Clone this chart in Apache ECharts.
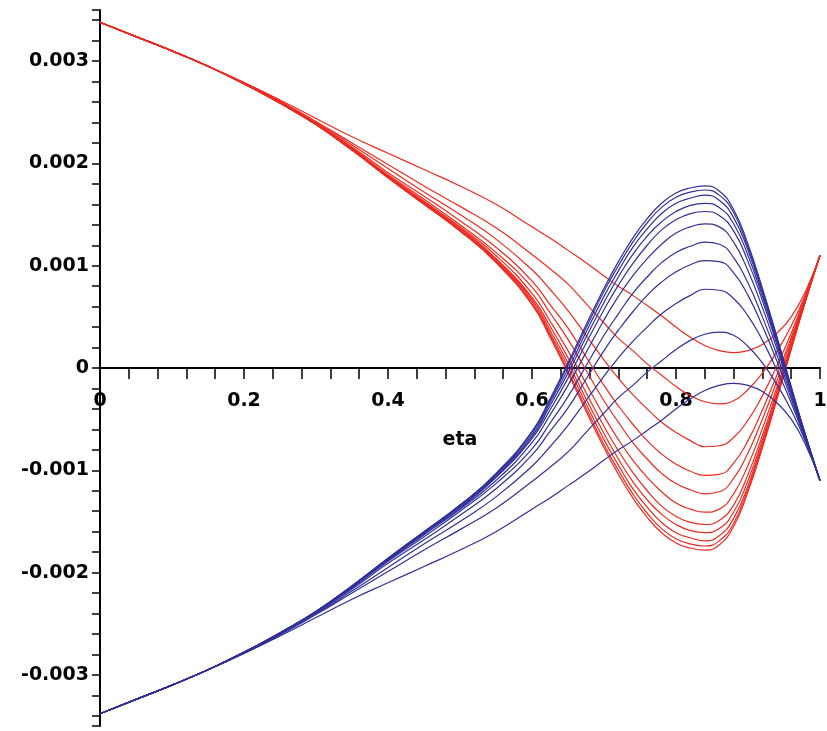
<!DOCTYPE html>
<html>
<head>
<meta charset="utf-8">
<script src="https://cdn.jsdelivr.net/npm/echarts@6/dist/echarts.min.js"></script>
<style>
  html, body { margin: 0; padding: 0; background: #fff; }
  #main { width: 827px; height: 731px; }
</style>
</head>
<body>
<div id="main"></div>
<script>
// eta sample points
var eta = [0, 0.05, 0.1, 0.15, 0.2, 0.25, 0.3, 0.35, 0.4, 0.45, 0.5, 0.55, 0.6, 0.625, 0.65, 0.675, 0.7, 0.72, 0.74, 0.76, 0.78, 0.8, 0.82, 0.84, 0.86, 0.88, 0.9, 0.92, 0.94, 0.96, 0.98, 1]

// red family
var red0 = [0.00338, 0.00324, 0.0031, 0.00295, 0.00279, 0.00262, 0.00244, 0.00226, 0.0021, 0.00194, 0.00178, 0.0016, 0.00138, 0.00127, 0.00115, 0.00103, 0.0009, 0.0008, 0.00071, 0.00061, 0.00051, 0.0004, 0.0003, 0.00022, 0.00017, 0.00015, 0.00017, 0.00023, 0.00034, 0.0005, 0.00075, 0.0011]
var red1 = [0.00338, 0.00324, 0.0031, 0.00295, 0.00279, 0.00261, 0.00241, 0.0022, 0.00199, 0.00178, 0.00158, 0.00137, 0.00111, 0.00097, 0.00082, 0.00063, 0.00044, 0.00029, 0.00017, 0.00004, -0.00007, -0.00018, -0.00027, -0.00033, -0.00035, -0.00032, -0.00021, -0.00005, 0.00016, 0.00041, 0.00072, 0.0011]
var red2 = [0.00338, 0.00324, 0.0031, 0.00295, 0.00278, 0.0026, 0.0024, 0.00218, 0.00195, 0.00172, 0.0015, 0.00126, 0.00096, 0.00077, 0.00056, 0.00032, 0.00008, -0.0001, -0.00026, -0.0004, -0.00053, -0.00063, -0.00071, -0.00077, -0.00076, -0.00068, -0.00051, -0.00027, 0.00002, 0.00034, 0.00071, 0.0011]
var red3 = [0.00338, 0.00324, 0.0031, 0.00295, 0.00278, 0.0026, 0.00239, 0.00216, 0.00191, 0.00168, 0.00144, 0.00118, 0.00085, 0.00062, 0.00039, 0.00011, -0.00017, -0.00037, -0.00055, -0.00071, -0.00084, -0.00094, -0.00101, -0.00105, -0.00104, -0.00093, -0.00071, -0.00041, -0.00007, 0.0003, 0.00069, 0.0011]
var red4 = [0.00338, 0.00324, 0.0031, 0.00295, 0.00278, 0.00259, 0.00239, 0.00215, 0.00189, 0.00165, 0.0014, 0.00113, 0.00079, 0.00054, 0.00028, -0.00002, -0.00032, -0.00053, -0.00073, -0.00089, -0.00103, -0.00113, -0.00119, -0.00123, -0.00121, -0.00108, -0.00083, -0.0005, -0.00013, 0.00027, 0.00068, 0.0011]
var red5 = [0.00338, 0.00324, 0.0031, 0.00295, 0.00278, 0.00259, 0.00238, 0.00214, 0.00188, 0.00163, 0.00138, 0.0011, 0.00073, 0.00046, 0.00017, -0.00015, -0.00047, -0.0007, -0.0009, -0.00107, -0.00121, -0.00132, -0.00138, -0.00141, -0.00138, -0.00123, -0.00095, -0.00059, -0.00019, 0.00024, 0.00068, 0.0011]
var red6 = [0.00338, 0.00324, 0.0031, 0.00295, 0.00278, 0.00259, 0.00238, 0.00214, 0.00187, 0.00162, 0.00137, 0.00107, 0.00069, 0.00041, 0.0001, -0.00024, -0.00057, -0.00081, -0.00102, -0.0012, -0.00135, -0.00145, -0.00151, -0.00153, -0.00149, -0.00134, -0.00104, -0.00066, -0.00023, 0.00022, 0.00067, 0.0011]
var red7 = [0.00338, 0.00324, 0.0031, 0.00295, 0.00278, 0.00259, 0.00238, 0.00213, 0.00187, 0.00161, 0.00136, 0.00106, 0.00067, 0.00037, 0.00005, -0.0003, -0.00064, -0.00089, -0.00111, -0.00129, -0.00143, -0.00153, -0.00159, -0.00161, -0.00157, -0.00141, -0.0011, -0.0007, -0.00026, 0.00021, 0.00067, 0.0011]
var red8 = [0.00338, 0.00324, 0.0031, 0.00295, 0.00278, 0.00259, 0.00238, 0.00213, 0.00187, 0.00161, 0.00135, 0.00105, 0.00065, 0.00034, 0.00001, -0.00035, -0.0007, -0.00095, -0.00118, -0.00136, -0.00151, -0.00161, -0.00166, -0.00169, -0.00164, -0.00147, -0.00115, -0.00073, -0.00028, 0.0002, 0.00066, 0.0011]
var red9 = [0.00338, 0.00324, 0.0031, 0.00295, 0.00278, 0.00259, 0.00238, 0.00213, 0.00186, 0.0016, 0.00134, 0.00104, 0.00063, 0.00032, -0.00003, -0.00039, -0.00075, -0.001, -0.00123, -0.00142, -0.00157, -0.00167, -0.00172, -0.00174, -0.00169, -0.00152, -0.00118, -0.00076, -0.0003, 0.00019, 0.00066, 0.0011]
var red10 = [0.00338, 0.00324, 0.0031, 0.00295, 0.00278, 0.00259, 0.00238, 0.00213, 0.00186, 0.0016, 0.00134, 0.00103, 0.00062, 0.0003, -0.00005, -0.00042, -0.00078, -0.00104, -0.00127, -0.00146, -0.00161, -0.00171, -0.00176, -0.00178, -0.00173, -0.00155, -0.00121, -0.00078, -0.00031, 0.00018, 0.00066, 0.0011]

// blue family
var blue0 = [-0.00338, -0.00324, -0.0031, -0.00295, -0.00279, -0.00262, -0.00244, -0.00226, -0.0021, -0.00194, -0.00178, -0.0016, -0.00138, -0.00127, -0.00115, -0.00103, -0.0009, -0.0008, -0.00071, -0.00061, -0.00051, -0.0004, -0.0003, -0.00022, -0.00017, -0.00015, -0.00017, -0.00023, -0.00034, -0.0005, -0.00075, -0.0011]
var blue1 = [-0.00338, -0.00324, -0.0031, -0.00295, -0.00279, -0.00261, -0.00241, -0.0022, -0.00199, -0.00178, -0.00158, -0.00137, -0.00111, -0.00097, -0.00082, -0.00063, -0.00044, -0.00029, -0.00017, -0.00004, 0.00007, 0.00018, 0.00027, 0.00033, 0.00035, 0.00032, 0.00021, 0.00005, -0.00016, -0.00041, -0.00072, -0.0011]
var blue2 = [-0.00338, -0.00324, -0.0031, -0.00295, -0.00278, -0.0026, -0.0024, -0.00218, -0.00195, -0.00172, -0.0015, -0.00126, -0.00096, -0.00077, -0.00056, -0.00032, -0.00008, 0.0001, 0.00026, 0.0004, 0.00053, 0.00063, 0.00071, 0.00077, 0.00076, 0.00068, 0.00051, 0.00027, -0.00002, -0.00034, -0.00071, -0.0011]
var blue3 = [-0.00338, -0.00324, -0.0031, -0.00295, -0.00278, -0.0026, -0.00239, -0.00216, -0.00191, -0.00168, -0.00144, -0.00118, -0.00085, -0.00062, -0.00039, -0.00011, 0.00017, 0.00037, 0.00055, 0.00071, 0.00084, 0.00094, 0.00101, 0.00105, 0.00104, 0.00093, 0.00071, 0.00041, 0.00007, -0.0003, -0.00069, -0.0011]
var blue4 = [-0.00338, -0.00324, -0.0031, -0.00295, -0.00278, -0.00259, -0.00239, -0.00215, -0.00189, -0.00165, -0.0014, -0.00113, -0.00079, -0.00054, -0.00028, 0.00002, 0.00032, 0.00053, 0.00073, 0.00089, 0.00103, 0.00113, 0.00119, 0.00123, 0.00121, 0.00108, 0.00083, 0.0005, 0.00013, -0.00027, -0.00068, -0.0011]
var blue5 = [-0.00338, -0.00324, -0.0031, -0.00295, -0.00278, -0.00259, -0.00238, -0.00214, -0.00188, -0.00163, -0.00138, -0.0011, -0.00073, -0.00046, -0.00017, 0.00015, 0.00047, 0.0007, 0.0009, 0.00107, 0.00121, 0.00132, 0.00138, 0.00141, 0.00138, 0.00123, 0.00095, 0.00059, 0.00019, -0.00024, -0.00068, -0.0011]
var blue6 = [-0.00338, -0.00324, -0.0031, -0.00295, -0.00278, -0.00259, -0.00238, -0.00214, -0.00187, -0.00162, -0.00137, -0.00107, -0.00069, -0.00041, -0.0001, 0.00024, 0.00057, 0.00081, 0.00102, 0.0012, 0.00135, 0.00145, 0.00151, 0.00153, 0.00149, 0.00134, 0.00104, 0.00066, 0.00023, -0.00022, -0.00067, -0.0011]
var blue7 = [-0.00338, -0.00324, -0.0031, -0.00295, -0.00278, -0.00259, -0.00238, -0.00213, -0.00187, -0.00161, -0.00136, -0.00106, -0.00067, -0.00037, -0.00005, 0.0003, 0.00064, 0.00089, 0.00111, 0.00129, 0.00143, 0.00153, 0.00159, 0.00161, 0.00157, 0.00141, 0.0011, 0.0007, 0.00026, -0.00021, -0.00067, -0.0011]
var blue8 = [-0.00338, -0.00324, -0.0031, -0.00295, -0.00278, -0.00259, -0.00238, -0.00213, -0.00187, -0.00161, -0.00135, -0.00105, -0.00065, -0.00034, -0.00001, 0.00035, 0.0007, 0.00095, 0.00118, 0.00136, 0.00151, 0.00161, 0.00166, 0.00169, 0.00164, 0.00147, 0.00115, 0.00073, 0.00028, -0.0002, -0.00066, -0.0011]
var blue9 = [-0.00338, -0.00324, -0.0031, -0.00295, -0.00278, -0.00259, -0.00238, -0.00213, -0.00186, -0.0016, -0.00134, -0.00104, -0.00063, -0.00032, 0.00003, 0.00039, 0.00075, 0.001, 0.00123, 0.00142, 0.00157, 0.00167, 0.00172, 0.00174, 0.00169, 0.00152, 0.00118, 0.00076, 0.0003, -0.00019, -0.00066, -0.0011]
var blue10 = [-0.00338, -0.00324, -0.0031, -0.00295, -0.00278, -0.00259, -0.00238, -0.00213, -0.00186, -0.0016, -0.00134, -0.00103, -0.00062, -0.0003, 0.00005, 0.00042, 0.00078, 0.00104, 0.00127, 0.00146, 0.00161, 0.00171, 0.00176, 0.00178, 0.00173, 0.00155, 0.00121, 0.00078, 0.00031, -0.00018, -0.00066, -0.0011]

// ticks and labels
var xTicks = [0, 0.04, 0.08, 0.12, 0.16, 0.2, 0.24, 0.28, 0.32, 0.36, 0.4, 0.44, 0.48, 0.52, 0.56, 0.6, 0.64, 0.68, 0.72, 0.76, 0.8, 0.84, 0.88, 0.92, 0.96, 1]
var xLabels = [0, 0.2, 0.4, 0.6, 0.8, 1]
var yTicks = [-0.0035, -0.0034, -0.0032, -0.003, -0.0028, -0.0026, -0.0024, -0.0022, -0.002, -0.0018, -0.0016, -0.0014, -0.0012, -0.001, -0.0008, -0.0006, -0.0004, -0.0002, 0, 0.0002, 0.0004, 0.0006, 0.0008, 0.001, 0.0012, 0.0014, 0.0016, 0.0018, 0.002, 0.0022, 0.0024, 0.0026, 0.0028, 0.003, 0.0032, 0.0034, 0.0035]
var yLabels = [-0.003, -0.002, -0.001, 0, 0.001, 0.002, 0.003]

var reds = [red0, red1, red2, red3, red4, red5, red6, red7, red8, red9, red10]
var blues = [blue0, blue1, blue2, blue3, blue4, blue5, blue6, blue7, blue8, blue9, blue10]

function toPairs (arr) {
  return arr.map(function (v, i) { return [eta[i], v] })
}

var series = []
reds.forEach(function (arr) {
  series.push({
    type: 'line', data: toPairs(arr), showSymbol: false, smooth: 0.5,
    lineStyle: { color: '#ee2a20', width: 1.2 }
  })
})
blues.forEach(function (arr) {
  series.push({
    type: 'line', data: toPairs(arr), showSymbol: false, smooth: 0.5,
    lineStyle: { color: '#30309c', width: 1.2 }
  })
})

var labelFont = { color: '#000', fontFamily: 'DejaVu Sans', fontWeight: 'bold', fontSize: 19 }

var gridTop = 10
var gridBottom = 5
var chartHeight = 731
// x axis sits at y = 0, i.e. in the middle of the symmetric y range
var xAxisOffset = -(chartHeight - gridTop - gridBottom) / 2

var myChart = echarts.init(document.getElementById('main'))
myChart.setOption({
  animation: false,
  grid: { left: 100, right: 7, top: gridTop, bottom: gridBottom, outerBoundsMode: 'none' },
  xAxis: {
    type: 'value', min: 0, max: 1, position: 'bottom', offset: xAxisOffset,
    name: 'eta', nameLocation: 'middle', nameGap: 63,
    nameTextStyle: labelFont,
    axisLine: { onZero: false, lineStyle: { color: '#000', width: 2 } },
    axisTick: { show: true, customValues: xTicks, length: 11, lineStyle: { color: '#000', width: 1.5 } },
    axisLabel: Object.assign({ customValues: xLabels, margin: 24 }, labelFont),
    splitLine: { show: false }
  },
  yAxis: {
    type: 'value', min: -0.0035, max: 0.0035,
    axisLine: { show: true, onZero: true, lineStyle: { color: '#000', width: 2 } },
    axisTick: { show: true, customValues: yTicks, length: 8, lineStyle: { color: '#000', width: 1.5 } },
    axisLabel: Object.assign({ customValues: yLabels, margin: 11 }, labelFont),
    splitLine: { show: false }
  },
  series: series
})
</script>
</body>
</html>
